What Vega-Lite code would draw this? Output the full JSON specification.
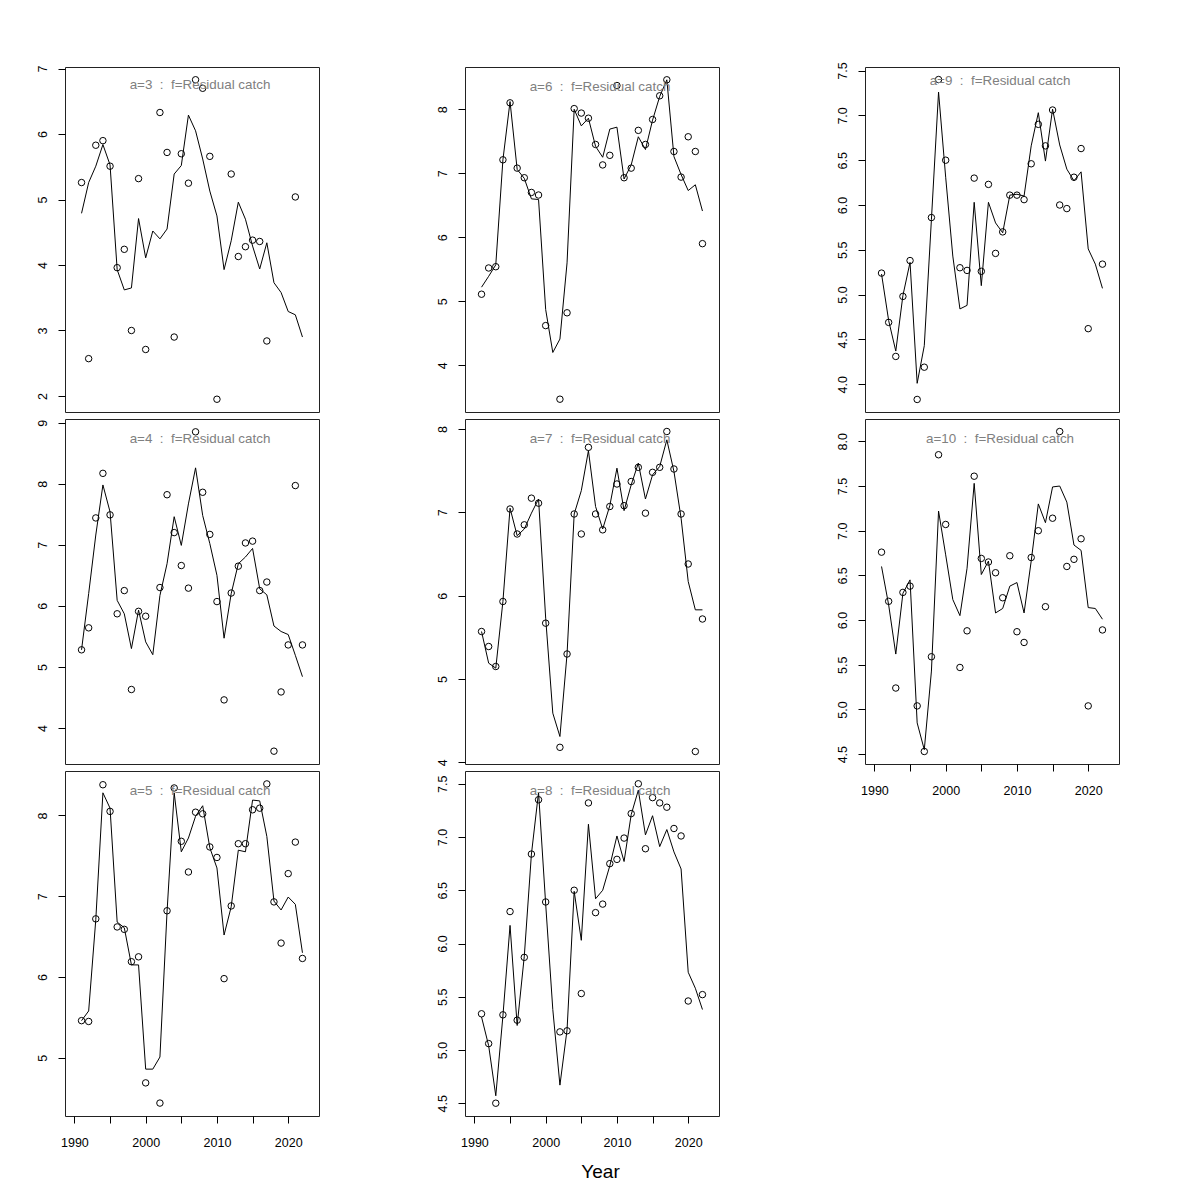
{
 "$schema": "https://vega.github.io/schema/vega-lite/v6.json",
 "background": "white",
 "padding": {"left": 35, "top": 61, "right": 5, "bottom": 5},
 "columns": 3,
 "spacing": {"row": 7, "column": 146},
 "bounds": "flush",
 "resolve": {"scale": {"x": "independent", "y": "independent"}},
 "config": {
  "view": {"stroke": "#222", "strokeWidth": 1},
  "title": {"anchor": "middle", "frame": "group", "orient": "top", "offset": -26, "baseline": "alphabetic", "dx": 8, "color": "#808080", "fontSize": 13.4, "fontWeight": "normal", "font": "Liberation Sans"},
  "axis": {"domain": false, "grid": false, "tickColor": "#000", "tickSize": 7, "tickWidth": 1, "labelFont": "Liberation Sans", "labelFontSize": 12.5, "labelColor": "#000", "labelFlush": false, "labelOverlap": false, "titleFont": "Liberation Sans"},
  "axisY": {"labelAngle": -90, "labelAlign": "center", "labelBaseline": "alphabetic", "labelPadding": 12},
  "axisX": {"labelPadding": 13, "labelBaseline": "top"}
 },
 "data": {"values": [
{"a":3,"year":1991,"obs":5.26,"fit":4.79},{"a":3,"year":1992,"obs":2.57,"fit":5.26},{"a":3,"year":1993,"obs":5.83,"fit":5.51},{"a":3,"year":1994,"obs":5.90,"fit":5.84},{"a":3,"year":1995,"obs":5.51,"fit":5.53},{"a":3,"year":1996,"obs":3.96,"fit":3.93},{"a":3,"year":1997,"obs":4.24,"fit":3.62},{"a":3,"year":1998,"obs":3.00,"fit":3.65},{"a":3,"year":1999,"obs":5.32,"fit":4.71},{"a":3,"year":2000,"obs":2.71,"fit":4.11},{"a":3,"year":2001,"obs":null,"fit":4.52},{"a":3,"year":2002,"obs":6.33,"fit":4.40},{"a":3,"year":2003,"obs":5.72,"fit":4.55},{"a":3,"year":2004,"obs":2.90,"fit":5.39},{"a":3,"year":2005,"obs":5.70,"fit":5.52},{"a":3,"year":2006,"obs":5.25,"fit":6.29},{"a":3,"year":2007,"obs":6.83,"fit":6.05},{"a":3,"year":2008,"obs":6.70,"fit":5.62},{"a":3,"year":2009,"obs":5.66,"fit":5.13},{"a":3,"year":2010,"obs":1.95,"fit":4.75},{"a":3,"year":2011,"obs":null,"fit":3.93},{"a":3,"year":2012,"obs":5.39,"fit":4.37},{"a":3,"year":2013,"obs":4.13,"fit":4.96},{"a":3,"year":2014,"obs":4.28,"fit":4.70},{"a":3,"year":2015,"obs":4.38,"fit":4.29},{"a":3,"year":2016,"obs":4.36,"fit":3.94},{"a":3,"year":2017,"obs":2.84,"fit":4.34},{"a":3,"year":2018,"obs":null,"fit":3.73},{"a":3,"year":2019,"obs":null,"fit":3.58},{"a":3,"year":2020,"obs":null,"fit":3.29},{"a":3,"year":2021,"obs":5.04,"fit":3.24},{"a":3,"year":2022,"obs":null,"fit":2.90},
{"a":4,"year":1991,"obs":5.28,"fit":5.28},{"a":4,"year":1992,"obs":5.64,"fit":6.20},{"a":4,"year":1993,"obs":7.44,"fit":7.16},{"a":4,"year":1994,"obs":8.17,"fit":7.98},{"a":4,"year":1995,"obs":7.49,"fit":7.54},{"a":4,"year":1996,"obs":5.87,"fit":6.09},{"a":4,"year":1997,"obs":6.25,"fit":5.87},{"a":4,"year":1998,"obs":4.63,"fit":5.30},{"a":4,"year":1999,"obs":5.91,"fit":5.93},{"a":4,"year":2000,"obs":5.83,"fit":5.41},{"a":4,"year":2001,"obs":null,"fit":5.20},{"a":4,"year":2002,"obs":6.30,"fit":6.17},{"a":4,"year":2003,"obs":7.82,"fit":6.69},{"a":4,"year":2004,"obs":7.20,"fit":7.46},{"a":4,"year":2005,"obs":6.66,"fit":6.99},{"a":4,"year":2006,"obs":6.29,"fit":7.67},{"a":4,"year":2007,"obs":8.85,"fit":8.26},{"a":4,"year":2008,"obs":7.86,"fit":7.48},{"a":4,"year":2009,"obs":7.17,"fit":7.02},{"a":4,"year":2010,"obs":6.07,"fit":6.50},{"a":4,"year":2011,"obs":4.46,"fit":5.47},{"a":4,"year":2012,"obs":6.21,"fit":6.20},{"a":4,"year":2013,"obs":6.65,"fit":6.69},{"a":4,"year":2014,"obs":7.03,"fit":6.80},{"a":4,"year":2015,"obs":7.06,"fit":6.94},{"a":4,"year":2016,"obs":6.25,"fit":6.28},{"a":4,"year":2017,"obs":6.39,"fit":6.18},{"a":4,"year":2018,"obs":3.62,"fit":5.67},{"a":4,"year":2019,"obs":4.59,"fit":5.58},{"a":4,"year":2020,"obs":5.36,"fit":5.53},{"a":4,"year":2021,"obs":7.97,"fit":5.19},{"a":4,"year":2022,"obs":5.36,"fit":4.84},
{"a":5,"year":1991,"obs":5.46,"fit":5.46},{"a":5,"year":1992,"obs":5.45,"fit":5.58},{"a":5,"year":1993,"obs":6.72,"fit":6.71},{"a":5,"year":1994,"obs":8.38,"fit":8.28},{"a":5,"year":1995,"obs":8.05,"fit":8.09},{"a":5,"year":1996,"obs":6.62,"fit":6.68},{"a":5,"year":1997,"obs":6.59,"fit":6.61},{"a":5,"year":1998,"obs":6.19,"fit":6.15},{"a":5,"year":1999,"obs":6.25,"fit":6.15},{"a":5,"year":2000,"obs":4.69,"fit":4.86},{"a":5,"year":2001,"obs":null,"fit":4.86},{"a":5,"year":2002,"obs":4.44,"fit":5.01},{"a":5,"year":2003,"obs":6.82,"fit":6.81},{"a":5,"year":2004,"obs":8.34,"fit":8.28},{"a":5,"year":2005,"obs":7.68,"fit":7.55},{"a":5,"year":2006,"obs":7.30,"fit":7.72},{"a":5,"year":2007,"obs":8.04,"fit":7.99},{"a":5,"year":2008,"obs":8.02,"fit":8.12},{"a":5,"year":2009,"obs":7.61,"fit":7.60},{"a":5,"year":2010,"obs":7.48,"fit":7.35},{"a":5,"year":2011,"obs":5.98,"fit":6.52},{"a":5,"year":2012,"obs":6.88,"fit":6.87},{"a":5,"year":2013,"obs":7.65,"fit":7.57},{"a":5,"year":2014,"obs":7.65,"fit":7.55},{"a":5,"year":2015,"obs":8.07,"fit":8.19},{"a":5,"year":2016,"obs":8.09,"fit":8.18},{"a":5,"year":2017,"obs":8.39,"fit":7.74},{"a":5,"year":2018,"obs":6.93,"fit":6.94},{"a":5,"year":2019,"obs":6.42,"fit":6.83},{"a":5,"year":2020,"obs":7.28,"fit":6.99},{"a":5,"year":2021,"obs":7.67,"fit":6.90},{"a":5,"year":2022,"obs":6.23,"fit":6.30},
{"a":6,"year":1991,"obs":5.11,"fit":5.22},{"a":6,"year":1992,"obs":5.52,"fit":5.39},{"a":6,"year":1993,"obs":5.54,"fit":5.57},{"a":6,"year":1994,"obs":7.21,"fit":7.21},{"a":6,"year":1995,"obs":8.10,"fit":8.12},{"a":6,"year":1996,"obs":7.08,"fit":7.06},{"a":6,"year":1997,"obs":6.93,"fit":6.92},{"a":6,"year":1998,"obs":6.70,"fit":6.60},{"a":6,"year":1999,"obs":6.66,"fit":6.59},{"a":6,"year":2000,"obs":4.62,"fit":4.87},{"a":6,"year":2001,"obs":null,"fit":4.20},{"a":6,"year":2002,"obs":3.47,"fit":4.41},{"a":6,"year":2003,"obs":4.82,"fit":5.60},{"a":6,"year":2004,"obs":8.01,"fit":8.00},{"a":6,"year":2005,"obs":7.94,"fit":7.74},{"a":6,"year":2006,"obs":7.86,"fit":7.86},{"a":6,"year":2007,"obs":7.45,"fit":7.42},{"a":6,"year":2008,"obs":7.13,"fit":7.25},{"a":6,"year":2009,"obs":7.28,"fit":7.69},{"a":6,"year":2010,"obs":8.37,"fit":7.72},{"a":6,"year":2011,"obs":6.93,"fit":6.91},{"a":6,"year":2012,"obs":7.08,"fit":7.13},{"a":6,"year":2013,"obs":7.67,"fit":7.57},{"a":6,"year":2014,"obs":7.45,"fit":7.37},{"a":6,"year":2015,"obs":7.84,"fit":7.83},{"a":6,"year":2016,"obs":8.21,"fit":8.20},{"a":6,"year":2017,"obs":8.46,"fit":8.46},{"a":6,"year":2018,"obs":7.34,"fit":7.26},{"a":6,"year":2019,"obs":6.94,"fit":6.98},{"a":6,"year":2020,"obs":7.57,"fit":6.73},{"a":6,"year":2021,"obs":7.34,"fit":6.82},{"a":6,"year":2022,"obs":5.90,"fit":6.41},
{"a":7,"year":1991,"obs":5.57,"fit":5.57},{"a":7,"year":1992,"obs":5.39,"fit":5.19},{"a":7,"year":1993,"obs":5.15,"fit":5.13},{"a":7,"year":1994,"obs":5.93,"fit":5.93},{"a":7,"year":1995,"obs":7.04,"fit":7.05},{"a":7,"year":1996,"obs":6.74,"fit":6.72},{"a":7,"year":1997,"obs":6.85,"fit":6.80},{"a":7,"year":1998,"obs":7.17,"fit":6.99},{"a":7,"year":1999,"obs":7.11,"fit":7.16},{"a":7,"year":2000,"obs":5.67,"fit":5.73},{"a":7,"year":2001,"obs":null,"fit":4.59},{"a":7,"year":2002,"obs":4.18,"fit":4.31},{"a":7,"year":2003,"obs":5.30,"fit":5.30},{"a":7,"year":2004,"obs":6.98,"fit":6.98},{"a":7,"year":2005,"obs":6.74,"fit":7.26},{"a":7,"year":2006,"obs":7.78,"fit":7.74},{"a":7,"year":2007,"obs":6.98,"fit":7.07},{"a":7,"year":2008,"obs":6.79,"fit":6.80},{"a":7,"year":2009,"obs":7.07,"fit":7.08},{"a":7,"year":2010,"obs":7.34,"fit":7.53},{"a":7,"year":2011,"obs":7.08,"fit":7.02},{"a":7,"year":2012,"obs":7.37,"fit":7.33},{"a":7,"year":2013,"obs":7.54,"fit":7.59},{"a":7,"year":2014,"obs":6.99,"fit":7.16},{"a":7,"year":2015,"obs":7.48,"fit":7.45},{"a":7,"year":2016,"obs":7.54,"fit":7.55},{"a":7,"year":2017,"obs":7.97,"fit":7.87},{"a":7,"year":2018,"obs":7.52,"fit":7.49},{"a":7,"year":2019,"obs":6.98,"fit":6.93},{"a":7,"year":2020,"obs":6.38,"fit":6.17},{"a":7,"year":2021,"obs":4.13,"fit":5.83},{"a":7,"year":2022,"obs":5.72,"fit":5.83},
{"a":8,"year":1991,"obs":5.34,"fit":5.31},{"a":8,"year":1992,"obs":5.06,"fit":5.04},{"a":8,"year":1993,"obs":4.50,"fit":4.57},{"a":8,"year":1994,"obs":5.33,"fit":5.32},{"a":8,"year":1995,"obs":6.30,"fit":6.17},{"a":8,"year":1996,"obs":5.28,"fit":5.23},{"a":8,"year":1997,"obs":5.87,"fit":5.88},{"a":8,"year":1998,"obs":6.84,"fit":6.84},{"a":8,"year":1999,"obs":7.35,"fit":7.42},{"a":8,"year":2000,"obs":6.39,"fit":6.37},{"a":8,"year":2001,"obs":null,"fit":5.38},{"a":8,"year":2002,"obs":5.17,"fit":4.67},{"a":8,"year":2003,"obs":5.18,"fit":5.19},{"a":8,"year":2004,"obs":6.50,"fit":6.49},{"a":8,"year":2005,"obs":5.53,"fit":6.03},{"a":8,"year":2006,"obs":7.32,"fit":7.12},{"a":8,"year":2007,"obs":6.29,"fit":6.42},{"a":8,"year":2008,"obs":6.37,"fit":6.50},{"a":8,"year":2009,"obs":6.75,"fit":6.73},{"a":8,"year":2010,"obs":6.79,"fit":7.01},{"a":8,"year":2011,"obs":6.99,"fit":6.77},{"a":8,"year":2012,"obs":7.22,"fit":7.21},{"a":8,"year":2013,"obs":7.50,"fit":7.44},{"a":8,"year":2014,"obs":6.89,"fit":7.02},{"a":8,"year":2015,"obs":7.37,"fit":7.20},{"a":8,"year":2016,"obs":7.32,"fit":6.91},{"a":8,"year":2017,"obs":7.28,"fit":7.07},{"a":8,"year":2018,"obs":7.08,"fit":6.86},{"a":8,"year":2019,"obs":7.01,"fit":6.70},{"a":8,"year":2020,"obs":5.46,"fit":5.73},{"a":8,"year":2021,"obs":null,"fit":5.58},{"a":8,"year":2022,"obs":5.52,"fit":5.38},
{"a":9,"year":1991,"obs":5.24,"fit":5.23},{"a":9,"year":1992,"obs":4.69,"fit":4.71},{"a":9,"year":1993,"obs":4.31,"fit":4.37},{"a":9,"year":1994,"obs":4.98,"fit":4.99},{"a":9,"year":1995,"obs":5.38,"fit":5.36},{"a":9,"year":1996,"obs":3.83,"fit":4.01},{"a":9,"year":1997,"obs":4.19,"fit":4.43},{"a":9,"year":1998,"obs":5.86,"fit":5.84},{"a":9,"year":1999,"obs":7.40,"fit":7.26},{"a":9,"year":2000,"obs":6.50,"fit":6.31},{"a":9,"year":2001,"obs":null,"fit":5.43},{"a":9,"year":2002,"obs":5.30,"fit":4.84},{"a":9,"year":2003,"obs":5.27,"fit":4.88},{"a":9,"year":2004,"obs":6.30,"fit":6.03},{"a":9,"year":2005,"obs":5.26,"fit":5.10},{"a":9,"year":2006,"obs":6.23,"fit":6.03},{"a":9,"year":2007,"obs":5.46,"fit":5.80},{"a":9,"year":2008,"obs":5.70,"fit":5.69},{"a":9,"year":2009,"obs":6.11,"fit":6.11},{"a":9,"year":2010,"obs":6.11,"fit":6.12},{"a":9,"year":2011,"obs":6.06,"fit":6.10},{"a":9,"year":2012,"obs":6.46,"fit":6.66},{"a":9,"year":2013,"obs":6.90,"fit":7.03},{"a":9,"year":2014,"obs":6.66,"fit":6.49},{"a":9,"year":2015,"obs":7.06,"fit":7.07},{"a":9,"year":2016,"obs":6.00,"fit":6.67},{"a":9,"year":2017,"obs":5.96,"fit":6.40},{"a":9,"year":2018,"obs":6.31,"fit":6.27},{"a":9,"year":2019,"obs":6.63,"fit":6.37},{"a":9,"year":2020,"obs":4.62,"fit":5.51},{"a":9,"year":2021,"obs":null,"fit":5.34},{"a":9,"year":2022,"obs":5.34,"fit":5.07},
{"a":10,"year":1991,"obs":6.76,"fit":6.60},{"a":10,"year":1992,"obs":6.21,"fit":6.17},{"a":10,"year":1993,"obs":5.24,"fit":5.62},{"a":10,"year":1994,"obs":6.31,"fit":6.30},{"a":10,"year":1995,"obs":6.38,"fit":6.45},{"a":10,"year":1996,"obs":5.04,"fit":4.85},{"a":10,"year":1997,"obs":4.53,"fit":4.55},{"a":10,"year":1998,"obs":5.59,"fit":5.43},{"a":10,"year":1999,"obs":7.85,"fit":7.22},{"a":10,"year":2000,"obs":7.07,"fit":6.73},{"a":10,"year":2001,"obs":null,"fit":6.23},{"a":10,"year":2002,"obs":5.47,"fit":6.05},{"a":10,"year":2003,"obs":5.88,"fit":6.58},{"a":10,"year":2004,"obs":7.61,"fit":7.53},{"a":10,"year":2005,"obs":6.69,"fit":6.51},{"a":10,"year":2006,"obs":6.65,"fit":6.66},{"a":10,"year":2007,"obs":6.53,"fit":6.08},{"a":10,"year":2008,"obs":6.25,"fit":6.13},{"a":10,"year":2009,"obs":6.72,"fit":6.38},{"a":10,"year":2010,"obs":5.87,"fit":6.42},{"a":10,"year":2011,"obs":5.75,"fit":6.08},{"a":10,"year":2012,"obs":6.70,"fit":6.66},{"a":10,"year":2013,"obs":7.00,"fit":7.30},{"a":10,"year":2014,"obs":6.15,"fit":7.09},{"a":10,"year":2015,"obs":7.14,"fit":7.49},{"a":10,"year":2016,"obs":8.11,"fit":7.50},{"a":10,"year":2017,"obs":6.60,"fit":7.32},{"a":10,"year":2018,"obs":6.68,"fit":6.84},{"a":10,"year":2019,"obs":6.91,"fit":6.78},{"a":10,"year":2020,"obs":5.04,"fit":6.14},{"a":10,"year":2021,"obs":null,"fit":6.13},{"a":10,"year":2022,"obs":5.89,"fit":6.01}
 ]},
 "concat": [
  {"width": 254, "height": 345, "title": {"text": "a=3\u00a0 :\u00a0 f=Residual catch"}, "transform": [{"filter": "datum.a==3"}],
   "encoding": {"x": {"field": "year", "type": "quantitative", "scale": {"domain": [1988.68, 2024.32], "nice": false, "zero": false}, "axis": null}},
   "layer": [
    {"mark": {"type": "line", "color": "black", "strokeWidth": 1}, "encoding": {"y": {"field": "fit", "type": "quantitative", "title": null, "scale": {"domain": [1.755, 7.025], "nice": false, "zero": false}, "axis": {"values": [2,3,4,5,6,7], "format": "d"}}}},
    {"mark": {"type": "point", "shape": "circle", "filled": false, "color": "black", "size": 42, "strokeWidth": 1, "opacity": 1}, "encoding": {"y": {"field": "obs", "type": "quantitative", "title": null, "scale": {"domain": [1.755, 7.025], "nice": false, "zero": false}, "axis": {"values": [2,3,4,5,6,7], "format": "d"}}}}
   ]},
  {"width": 254, "height": 345, "title": {"text": "a=6\u00a0 :\u00a0 f=Residual catch"}, "transform": [{"filter": "datum.a==6"}],
   "encoding": {"x": {"field": "year", "type": "quantitative", "scale": {"domain": [1988.68, 2024.32], "nice": false, "zero": false}, "axis": null}},
   "layer": [
    {"mark": {"type": "line", "color": "black", "strokeWidth": 1}, "encoding": {"y": {"field": "fit", "type": "quantitative", "title": null, "scale": {"domain": [3.27, 8.66], "nice": false, "zero": false}, "axis": {"values": [4,5,6,7,8], "format": "d"}}}},
    {"mark": {"type": "point", "shape": "circle", "filled": false, "color": "black", "size": 42, "strokeWidth": 1, "opacity": 1}, "encoding": {"y": {"field": "obs", "type": "quantitative", "title": null, "scale": {"domain": [3.27, 8.66], "nice": false, "zero": false}, "axis": {"values": [4,5,6,7,8], "format": "d"}}}}
   ]},
  {"width": 254, "height": 345, "title": {"text": "a=9\u00a0 :\u00a0 f=Residual catch"}, "transform": [{"filter": "datum.a==9"}],
   "encoding": {"x": {"field": "year", "type": "quantitative", "scale": {"domain": [1988.68, 2024.32], "nice": false, "zero": false}, "axis": null}},
   "layer": [
    {"mark": {"type": "line", "color": "black", "strokeWidth": 1}, "encoding": {"y": {"field": "fit", "type": "quantitative", "title": null, "scale": {"domain": [3.69, 7.54], "nice": false, "zero": false}, "axis": {"values": [4,4.5,5,5.5,6,6.5,7,7.5], "format": ".1f"}}}},
    {"mark": {"type": "point", "shape": "circle", "filled": false, "color": "black", "size": 42, "strokeWidth": 1, "opacity": 1}, "encoding": {"y": {"field": "obs", "type": "quantitative", "title": null, "scale": {"domain": [3.69, 7.54], "nice": false, "zero": false}, "axis": {"values": [4,4.5,5,5.5,6,6.5,7,7.5], "format": ".1f"}}}}
   ]},
  {"width": 254, "height": 345, "title": {"text": "a=4\u00a0 :\u00a0 f=Residual catch"}, "transform": [{"filter": "datum.a==4"}],
   "encoding": {"x": {"field": "year", "type": "quantitative", "scale": {"domain": [1988.68, 2024.32], "nice": false, "zero": false}, "axis": null}},
   "layer": [
    {"mark": {"type": "line", "color": "black", "strokeWidth": 1}, "encoding": {"y": {"field": "fit", "type": "quantitative", "title": null, "scale": {"domain": [3.41, 9.06], "nice": false, "zero": false}, "axis": {"values": [4,5,6,7,8,9], "format": "d"}}}},
    {"mark": {"type": "point", "shape": "circle", "filled": false, "color": "black", "size": 42, "strokeWidth": 1, "opacity": 1}, "encoding": {"y": {"field": "obs", "type": "quantitative", "title": null, "scale": {"domain": [3.41, 9.06], "nice": false, "zero": false}, "axis": {"values": [4,5,6,7,8,9], "format": "d"}}}}
   ]},
  {"width": 254, "height": 345, "title": {"text": "a=7\u00a0 :\u00a0 f=Residual catch"}, "transform": [{"filter": "datum.a==7"}],
   "encoding": {"x": {"field": "year", "type": "quantitative", "scale": {"domain": [1988.68, 2024.32], "nice": false, "zero": false}, "axis": null}},
   "layer": [
    {"mark": {"type": "line", "color": "black", "strokeWidth": 1}, "encoding": {"y": {"field": "fit", "type": "quantitative", "title": null, "scale": {"domain": [3.98, 8.12], "nice": false, "zero": false}, "axis": {"values": [4,5,6,7,8], "format": "d"}}}},
    {"mark": {"type": "point", "shape": "circle", "filled": false, "color": "black", "size": 42, "strokeWidth": 1, "opacity": 1}, "encoding": {"y": {"field": "obs", "type": "quantitative", "title": null, "scale": {"domain": [3.98, 8.12], "nice": false, "zero": false}, "axis": {"values": [4,5,6,7,8], "format": "d"}}}}
   ]},
  {"width": 254, "height": 345, "title": {"text": "a=10\u00a0 :\u00a0 f=Residual catch"}, "transform": [{"filter": "datum.a==10"}],
   "encoding": {"x": {"field": "year", "type": "quantitative", "scale": {"domain": [1988.68, 2024.32], "nice": false, "zero": false}, "axis": {"values": [1990,1995,2000,2005,2010,2015,2020], "format": "d", "labelExpr": "datum.value % 10 == 0 ? datum.label : ''", "title": null}}},
   "layer": [
    {"mark": {"type": "line", "color": "black", "strokeWidth": 1}, "encoding": {"y": {"field": "fit", "type": "quantitative", "title": null, "scale": {"domain": [4.39, 8.25], "nice": false, "zero": false}, "axis": {"values": [4.5,5,5.5,6,6.5,7,7.5,8], "format": ".1f"}}}},
    {"mark": {"type": "point", "shape": "circle", "filled": false, "color": "black", "size": 42, "strokeWidth": 1, "opacity": 1}, "encoding": {"y": {"field": "obs", "type": "quantitative", "title": null, "scale": {"domain": [4.39, 8.25], "nice": false, "zero": false}, "axis": {"values": [4.5,5,5.5,6,6.5,7,7.5,8], "format": ".1f"}}}}
   ]},
  {"width": 254, "height": 345, "title": {"text": "a=5\u00a0 :\u00a0 f=Residual catch"}, "transform": [{"filter": "datum.a==5"}],
   "encoding": {"x": {"field": "year", "type": "quantitative", "scale": {"domain": [1988.68, 2024.32], "nice": false, "zero": false}, "axis": {"values": [1990,1995,2000,2005,2010,2015,2020], "format": "d", "labelExpr": "datum.value % 10 == 0 ? datum.label : ''", "title": null}}},
   "layer": [
    {"mark": {"type": "line", "color": "black", "strokeWidth": 1}, "encoding": {"y": {"field": "fit", "type": "quantitative", "title": null, "scale": {"domain": [4.28, 8.55], "nice": false, "zero": false}, "axis": {"values": [5,6,7,8], "format": "d"}}}},
    {"mark": {"type": "point", "shape": "circle", "filled": false, "color": "black", "size": 42, "strokeWidth": 1, "opacity": 1}, "encoding": {"y": {"field": "obs", "type": "quantitative", "title": null, "scale": {"domain": [4.28, 8.55], "nice": false, "zero": false}, "axis": {"values": [5,6,7,8], "format": "d"}}}}
   ]},
  {"width": 254, "height": 345, "title": {"text": "a=8\u00a0 :\u00a0 f=Residual catch"}, "transform": [{"filter": "datum.a==8"}],
   "encoding": {"x": {"field": "year", "type": "quantitative", "scale": {"domain": [1988.68, 2024.32], "nice": false, "zero": false}, "axis": {"values": [1990,1995,2000,2005,2010,2015,2020], "format": "d", "labelExpr": "datum.value % 10 == 0 ? datum.label : ''", "title": "Year", "titleFontSize": 19, "titleFontWeight": "normal", "titleColor": "#000", "titleX": 135, "titleY": 61, "titleBaseline": "alphabetic", "titleAlign": "center"}}},
   "layer": [
    {"mark": {"type": "line", "color": "black", "strokeWidth": 1}, "encoding": {"y": {"field": "fit", "type": "quantitative", "title": null, "scale": {"domain": [4.38, 7.62], "nice": false, "zero": false}, "axis": {"values": [4.5,5,5.5,6,6.5,7,7.5], "format": ".1f"}}}},
    {"mark": {"type": "point", "shape": "circle", "filled": false, "color": "black", "size": 42, "strokeWidth": 1, "opacity": 1}, "encoding": {"y": {"field": "obs", "type": "quantitative", "title": null, "scale": {"domain": [4.38, 7.62], "nice": false, "zero": false}, "axis": {"values": [4.5,5,5.5,6,6.5,7,7.5], "format": ".1f"}}}}
   ]}
 ]
}
